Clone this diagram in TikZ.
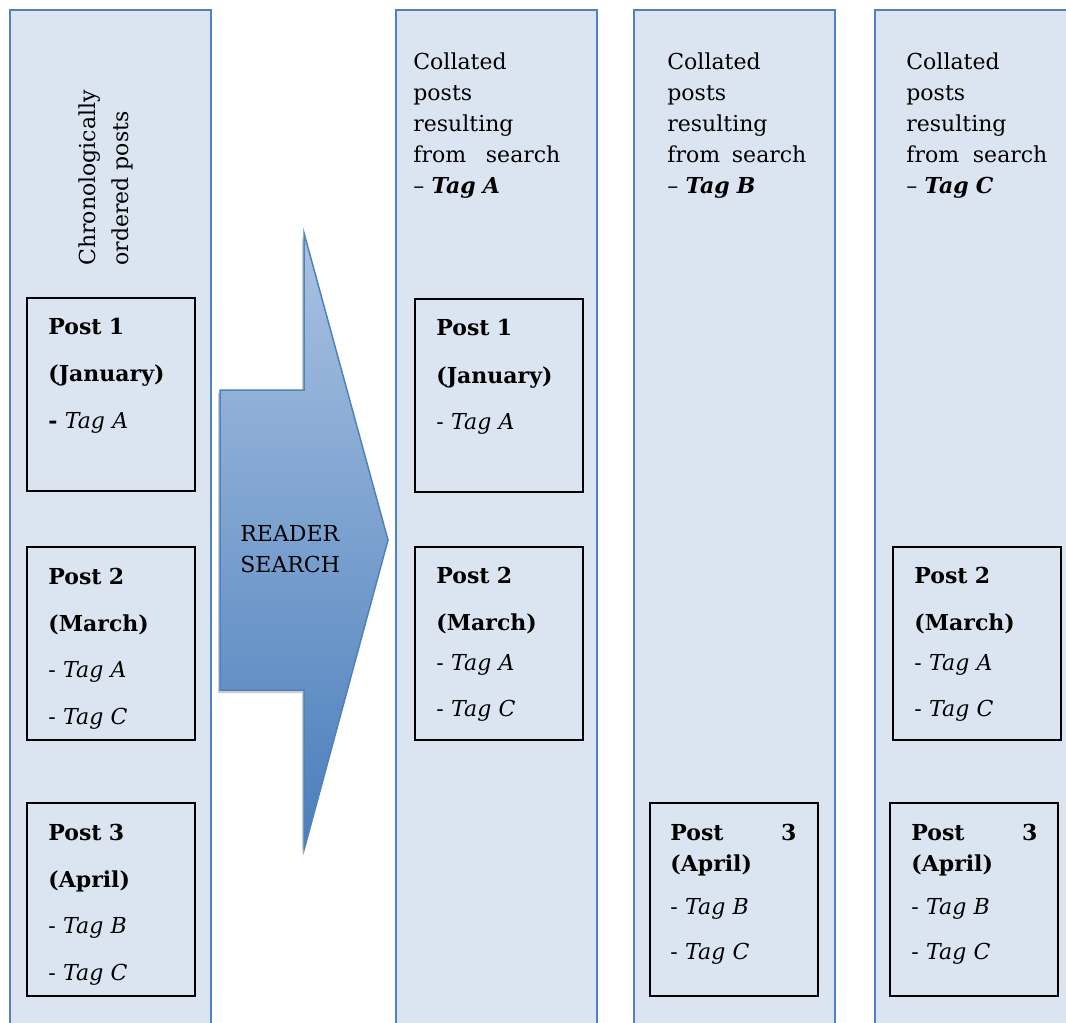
\documentclass[tikz,border=0pt]{standalone}
\usepackage{fontspec}
\setmainfont{DejaVu Serif}
\usetikzlibrary{positioning}
\definecolor{colfill}{HTML}{DBE5F1}
\definecolor{coledge}{HTML}{4F81BD}
\definecolor{arrowtop}{HTML}{A9C2E2}
\definecolor{arrowbot}{HTML}{4A7EBB}

\begin{document}
\begin{tikzpicture}[x=0.5pt, y=-0.5pt,
	column/.style={draw=coledge, fill=colfill, line width=1pt, minimum width=100.5pt, minimum height=520pt, anchor=north west, inner sep=0pt, outer sep=0pt},
	postbox/.style={draw=black, line width=1pt, minimum width=84pt, minimum height=96.5pt, anchor=north west, inner sep=0pt, outer sep=0pt},
	posttext/.style={anchor=base west, inner sep=0pt, align=left, text width=63pt, font=\fontsize{11}{15.5}\selectfont},
	headtext/.style={anchor=base west, inner sep=0pt, align=left, font=\fontsize{11}{15.5}\selectfont}]
	\useasboundingbox (0,0) rectangle (1066,1023);
	\fill[white] (0,0) rectangle (1066,1023);

	\node[column] (chrono) at (10,10) {};
	\node[column] (tagA) at (396,10) {};
	\node[column] (tagB) at (634,10) {};
	\node[column] (tagC) at (875,10) {};

	\node[rotate=90, anchor=north west, inner sep=0pt, align=left, font=\fontsize{11}{16.5}\selectfont] (chronolabel) at (78,266) {Chronologically\\ordered posts};

	\fill[gray!40, xshift=-1pt, yshift=-1.5pt] (220,390) -- (304,390) -- (304,233) -- (388,540) -- (304,850) -- (304,690) -- (220,690) -- cycle;
	\shade[top color=arrowtop, bottom color=arrowbot, draw=coledge, line width=0.75pt] (220,390) -- (304,390) -- (304,233) -- (388,540) -- (304,850) -- (304,690) -- (220,690) -- cycle;
	\node[headtext, text width=55pt] (search) at (240,541) {READER\\SEARCH};

	\node[headtext, text width=73.5pt] (headA) at ([xshift=8.5pt, yshift=-29.5pt]tagA.north west) {Collated\\posts\\resulting\\from\hfill search\\– \textbf{\textit{Tag A}}};
	\node[headtext, text width=69.5pt] (headB) at ([xshift=16.5pt, yshift=-29.5pt]tagB.north west) {Collated\\posts\\resulting\\from\hfill search\\– \textbf{\textit{Tag B}}};
	\node[headtext, text width=70.5pt] (headC) at ([xshift=15.5pt, yshift=-29.5pt]tagC.north west) {Collated\\posts\\resulting\\from\hfill search\\– \textbf{\textit{Tag C}}};

	\node[postbox] (p1) at (27,298) {};
	\node[postbox] (p2) at (27,547) {};
	\node[postbox] (p3) at (27,803) {};
	\node[postbox] (a1) at (415,299) {};
	\node[postbox] (a2) at (415,547) {};
	\node[postbox] (b3) at (650,803) {};
	\node[postbox] (c2) at (893,547) {};
	\node[postbox] (c3) at (890,803) {};

	\node[posttext] (p1text) at ([xshift=10.5pt, yshift=-18pt]p1.north west) {\textbf{Post 1}\\[8pt]\textbf{(January)}\\[8pt]\textbf{-} \textit{Tag A}};
	\node[posttext] (p2text) at ([xshift=10.5pt, yshift=-18.5pt]p2.north west) {\textbf{Post 2}\\[8pt]\textbf{(March)}\\[7.5pt]- \textit{Tag A}\\[8pt]- \textit{Tag C}};
	\node[posttext] (p3text) at ([xshift=10.5pt, yshift=-18.5pt]p3.north west) {\textbf{Post 3}\\[8pt]\textbf{(April)}\\[7.5pt]- \textit{Tag B}\\[8pt]- \textit{Tag C}};
	\node[posttext] (a1text) at ([xshift=10.5pt, yshift=-18pt]a1.north west) {\textbf{Post 1}\\[8.5pt]\textbf{(January)}\\[7.5pt]- \textit{Tag A}};
	\node[posttext] (a2text) at ([xshift=10.5pt, yshift=-18pt]a2.north west) {\textbf{Post 2}\\[8pt]\textbf{(March)}\\[4.5pt]- \textit{Tag A}\\[7.5pt]- \textit{Tag C}};
	\node[posttext] (b3text) at ([xshift=10pt, yshift=-18.5pt]b3.north west) {\textbf{Post\hfill 3}\\\textbf{(April)}\\[6pt]- \textit{Tag B}\\[7pt]- \textit{Tag C}};
	\node[posttext] (c2text) at ([xshift=10.5pt, yshift=-18pt]c2.north west) {\textbf{Post 2}\\[8pt]\textbf{(March)}\\[4.5pt]- \textit{Tag A}\\[7.5pt]- \textit{Tag C}};
	\node[posttext] (c3text) at ([xshift=10.5pt, yshift=-18.5pt]c3.north west) {\textbf{Post\hfill 3}\\\textbf{(April)}\\[6pt]- \textit{Tag B}\\[7pt]- \textit{Tag C}};
\end{tikzpicture}
\end{document}
